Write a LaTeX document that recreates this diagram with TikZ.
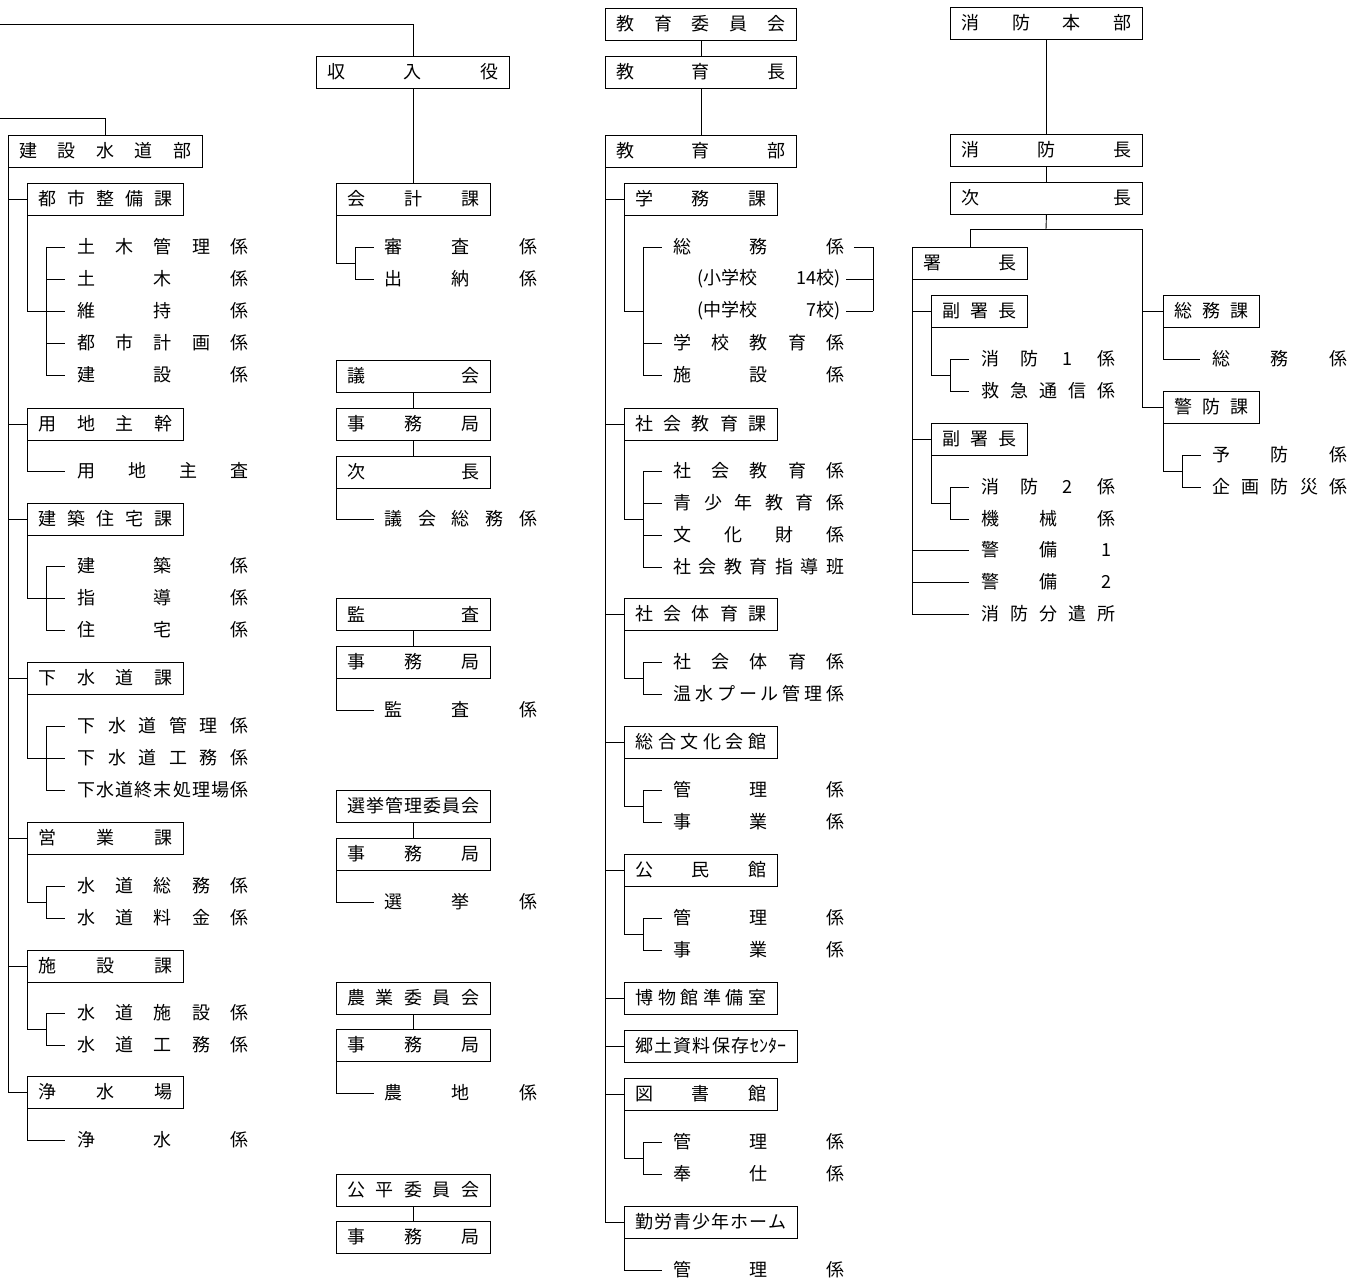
\documentclass[tikz,border=0pt]{standalone}
\usepackage{fontspec}
\setmainfont{Noto Sans CJK JP}
\makeatletter
\def\spr@endmark{}
\def\spr@end{\spr@endmark}
\newcommand\spreadtext[1]{\spr@a#1\spr@end}
\def\spr@a#1{#1\spr@b}
\def\spr@b#1{\ifx\spr@end#1\else\hfill#1\expandafter\spr@b\fi}
\makeatother
\newcommand\dg[1]{\makebox[1em]{#1}}
\newcommand\bx[5]{\node[box,minimum width=#4pt] (#1) at (#2,#3) {\makebox[\dimexpr#4pt-22pt\relax][s]{\spreadtext{#5}}};}
\newcommand\itm[5]{\node[item] (#1) at (#2,#3) {\makebox[#4pt][s]{\spreadtext{#5}}};}
\newcommand\tk[3]{\draw (#2,0 |- #1.west) -- (#3,0 |- #1.west);}
\begin{document}
\begin{tikzpicture}[x=1pt,y=-1pt,line width=0.9pt,
  every node/.style={font=\fontsize{18pt}{20pt}\selectfont},
  box/.style={draw,anchor=west,inner sep=0pt,minimum height=32pt},
  item/.style={anchor=west,inner sep=0pt}]
\fill[white] (0,0) rectangle (1348,1281);
\useasboundingbox (0,0) rectangle (1348,1281);

% ---------------- left column ----------------
\bx{kensetsu}{8}{151}{194}{建設水道部}
\bx{toshi}{27}{199}{156}{都市整備課}
\itm{Lt1}{77}{247}{171}{土木管理係}
\itm{Lt2}{77}{279}{171}{土木係}
\itm{Lt3}{77}{311}{171}{維持係}
\itm{Lt4}{77}{343}{171}{都市計画係}
\itm{Lt5}{77}{375}{171}{建設係}
\bx{yochi}{27}{424}{156}{用地主幹}
\itm{Ly1}{77}{471}{171}{用地主査}
\bx{kenchiku}{27}{519}{156}{建築住宅課}
\itm{Lk1}{77}{566}{171}{建築係}
\itm{Lk2}{77}{598}{171}{指導係}
\itm{Lk3}{77}{630}{171}{住宅係}
\bx{gesui}{27}{678}{156}{下水道課}
\itm{Lg1}{77}{726}{171}{下水道管理係}
\itm{Lg2}{77}{758}{171}{下水道工務係}
\itm{Lg3}{77}{790}{171}{下水道終末処理場係}
\bx{eigyo}{27}{838}{156}{営業課}
\itm{Le1}{77}{886}{171}{水道総務係}
\itm{Le2}{77}{918}{171}{水道料金係}
\bx{shisetsu}{27}{966}{156}{施設課}
\itm{Ls1}{77}{1013}{171}{水道施設係}
\itm{Ls2}{77}{1045}{171}{水道工務係}
\bx{josui}{27}{1092}{156}{浄水場}
\itm{Lj1}{77}{1140}{171}{浄水係}

% ---------------- middle column ----------------
\bx{shunyu}{316}{72}{193}{収入役}
\bx{kaikei}{336}{199}{154}{会計課}
\itm{Mk1}{384}{247}{153}{審査係}
\itm{Mk2}{384}{279}{153}{出納係}
\bx{gikai}{336}{376}{154}{議会}
\bx{gjim}{336}{424}{154}{事務局}
\bx{gjicho}{336}{472}{154}{次長}
\itm{Mg1}{384}{519}{153}{議会総務係}
\bx{kansa}{336}{614}{154}{監査}
\bx{kjim}{336}{662}{154}{事務局}
\itm{Mka1}{384}{710}{153}{監査係}
\bx{senkyo}{336}{806}{154}{選挙管理委員会}
\bx{sjim}{336}{854}{154}{事務局}
\itm{Ms1}{384}{902}{153}{選挙係}
\bx{nogyo}{336}{998}{154}{農業委員会}
\bx{njim}{336}{1045}{154}{事務局}
\itm{Mn1}{384}{1093}{153}{農地係}
\bx{kohei}{336}{1190}{154}{公平委員会}
\bx{hjim}{336}{1237}{154}{事務局}

% ---------------- education column ----------------
\bx{kyoi}{605}{24}{191}{教育委員会}
\bx{kyocho}{605}{72}{191}{教育長}
\bx{kyobu}{605}{151}{191}{教育部}
\bx{gakumu}{624}{199}{153}{学務課}
\itm{Eg1}{673}{247}{171}{総務係}
\node[item] (sho1) at (697,279) {(小学校};
\node[item,anchor=east] (sho2) at (841,279) {14校)};
\node[item] (chu1) at (697,311) {(中学校};
\node[item,anchor=east] (chu2) at (841,311) {\phantom{1}7校)};
\itm{Eg2}{673}{343}{171}{学校教育係}
\itm{Eg3}{673}{375}{171}{施設係}
\bx{shakyo}{624}{424}{153}{社会教育課}
\itm{Esk1}{673}{471}{171}{社会教育係}
\itm{Esk2}{673}{503}{171}{青少年教育係}
\itm{Esk3}{673}{535}{171}{文化財係}
\itm{Esk4}{673}{567}{171}{社会教育指導班}
\bx{shatai}{624}{614}{153}{社会体育課}
\itm{Est1}{673}{662}{171}{社会体育係}
\itm{Est2}{673}{694}{171}{温水プール管理係}
\bx{sogo}{624}{742}{153}{総合文化会館}
\itm{Eso1}{673}{790}{171}{管理係}
\itm{Eso2}{673}{822}{171}{事業係}
\bx{kominkan}{624}{870}{153}{公民館}
\itm{Eko1}{673}{918}{171}{管理係}
\itm{Eko2}{673}{950}{171}{事業係}
\bx{hakubutsu}{624}{998}{153}{博物館準備室}
\bx{kyodo}{624}{1046}{173}{郷土資料保存{ｾﾝﾀｰ}}
\bx{tosho}{624}{1094}{153}{図書館}
\itm{Eto1}{673}{1142}{171}{管理係}
\itm{Eto2}{673}{1174}{171}{奉仕係}
\bx{kinro}{624}{1222}{173}{勤労青少年ホーム}
\itm{Eki1}{673}{1270}{171}{管理係}

% ---------------- fire column ----------------
\bx{shohon}{950}{23}{192}{消防本部}
\bx{shocho}{950}{150}{192}{消防長}
\bx{fjicho}{950}{198}{192}{次長}
\bx{shoch}{912}{263}{115}{署長}
\bx{fuku1}{931}{311}{96}{副署長}
\bx{fuku2}{931}{439}{96}{副署長}
\bx{somuka}{1163}{311}{96}{総務課}
\bx{keiboka}{1163}{407}{96}{警防課}
\itm{Ff1}{981}{359}{134}{消防{\dg1}係}
\itm{Ff2}{981}{391}{134}{救急通信係}
\itm{Ff3}{981}{487}{134}{消防{\dg2}係}
\itm{Ff4}{981}{519}{134}{機械係}
\itm{Ff5}{981}{550}{134}{警備{\dg1}}
\itm{Ff6}{981}{582}{134}{警備{\dg2}}
\itm{Ff7}{981}{614}{134}{消防分遣所}
\itm{Fs1}{1212}{359}{135}{総務係}
\itm{Fk1}{1212}{455}{135}{予防係}
\itm{Fk2}{1212}{487}{135}{企画防災係}

% ---------------- connectors: left ----------------
\coordinate (topL) at (0,24);
\coordinate (secL) at (0,118);
\draw (topL) -| (shunyu.north);
\draw (secL) -| (kensetsu.north);
\draw (kensetsu.south west) |- (josui.west);
\foreach \n in {toshi,yochi,kenchiku,gesui,eigyo,shisetsu} {\draw (8,0 |- \n.west) -- (\n.west);}
\draw (toshi.south west) |- (46,0 |- Lt3.west);
\draw (46,0 |- Lt1.west) -- (46,0 |- Lt5.west);
\foreach \n in {Lt1,Lt2,Lt3,Lt4,Lt5} {\tk{\n}{46}{65}}
\draw (yochi.south west) |- (65,0 |- Ly1.west);
\draw (kenchiku.south west) |- (46,0 |- Lk2.west);
\draw (46,0 |- Lk1.west) -- (46,0 |- Lk3.west);
\foreach \n in {Lk1,Lk2,Lk3} {\tk{\n}{46}{65}}
\draw (gesui.south west) |- (46,0 |- Lg2.west);
\draw (46,0 |- Lg1.west) -- (46,0 |- Lg3.west);
\foreach \n in {Lg1,Lg2,Lg3} {\tk{\n}{46}{65}}
\draw (eigyo.south west) |- (46,902);
\draw (46,0 |- Le1.west) -- (46,0 |- Le2.west);
\foreach \n in {Le1,Le2} {\tk{\n}{46}{65}}
\draw (shisetsu.south west) |- (46,1029);
\draw (46,0 |- Ls1.west) -- (46,0 |- Ls2.west);
\foreach \n in {Ls1,Ls2} {\tk{\n}{46}{65}}
\draw (josui.south west) |- (65,0 |- Lj1.west);

% ---------------- connectors: middle ----------------
\draw (shunyu.south) -- (shunyu.south |- kaikei.north);
\draw (kaikei.south west) |- (355,263);
\draw (355,0 |- Mk1.west) -- (355,0 |- Mk2.west);
\foreach \n in {Mk1,Mk2} {\tk{\n}{355}{374}}
\draw (gikai.south) -- (gjim.north);
\draw (gjim.south) -- (gjicho.north);
\draw (gjicho.south west) |- (374,0 |- Mg1.west);
\draw (kansa.south) -- (kjim.north);
\draw (kjim.south west) |- (374,0 |- Mka1.west);
\draw (senkyo.south) -- (sjim.north);
\draw (sjim.south west) |- (374,0 |- Ms1.west);
\draw (nogyo.south) -- (njim.north);
\draw (njim.south west) |- (374,0 |- Mn1.west);
\draw (kohei.south) -- (hjim.north);

% ---------------- connectors: education ----------------
\draw (kyoi.south) -- (kyocho.north);
\draw (kyocho.south) -- (kyobu.north);
\draw (kyobu.south west) |- (kinro.west);
\foreach \n in {gakumu,shakyo,shatai,sogo,kominkan,hakubutsu,kyodo,tosho} {\draw (605,0 |- \n.west) -- (\n.west);}
\draw (gakumu.south west) |- (643,311);
\draw (643,0 |- Eg1.west) -- (643,0 |- Eg3.west);
\foreach \n in {Eg1,Eg2,Eg3} {\tk{\n}{643}{662}}
\draw ([xshift=9pt]Eg1.east) -| (873,311);
\draw ([xshift=5pt]sho2.east) -- (873,279);
\draw ([xshift=5pt]chu2.east) -- (873,311);
\draw (shakyo.south west) |- (643,519);
\draw (643,0 |- Esk1.west) -- (643,0 |- Esk4.west);
\foreach \n in {Esk1,Esk2,Esk3,Esk4} {\tk{\n}{643}{662}}
\draw (shatai.south west) |- (643,678);
\draw (643,0 |- Est1.west) -- (643,0 |- Est2.west);
\foreach \n in {Est1,Est2} {\tk{\n}{643}{662}}
\draw (sogo.south west) |- (643,806);
\draw (643,0 |- Eso1.west) -- (643,0 |- Eso2.west);
\foreach \n in {Eso1,Eso2} {\tk{\n}{643}{662}}
\draw (kominkan.south west) |- (643,934);
\draw (643,0 |- Eko1.west) -- (643,0 |- Eko2.west);
\foreach \n in {Eko1,Eko2} {\tk{\n}{643}{662}}
\draw (tosho.south west) |- (643,1158);
\draw (643,0 |- Eto1.west) -- (643,0 |- Eto2.west);
\foreach \n in {Eto1,Eto2} {\tk{\n}{643}{662}}
\draw (kinro.south west) |- (662,0 |- Eki1.west);

% ---------------- connectors: fire ----------------
\draw (shohon.south) -- (shocho.north);
\draw (shocho.south) -- (fjicho.north);
\coordinate (fj) at (1046,229);
\draw (fjicho.south) -- (fj);
\draw (shoch.north) |- (1142,229) |- (keiboka.west);
\draw (1142,0 |- somuka.west) -- (somuka.west);
\draw (somuka.south west) |- (1200,0 |- Fs1.west);
\draw (keiboka.south west) |- (1182,471);
\draw (1182,0 |- Fk1.west) -- (1182,0 |- Fk2.west);
\foreach \n in {Fk1,Fk2} {\tk{\n}{1182}{1201}}
\draw (shoch.south west) |- (969,0 |- Ff7.west);
\foreach \n in {fuku1,fuku2} {\draw (912,0 |- \n.west) -- (\n.west);}
\foreach \n in {Ff5,Ff6} {\tk{\n}{912}{969}}
\draw (fuku1.south west) |- (950,375);
\draw (950,0 |- Ff1.west) -- (950,0 |- Ff2.west);
\foreach \n in {Ff1,Ff2} {\tk{\n}{950}{969}}
\draw (fuku2.south west) |- (950,503);
\draw (950,0 |- Ff3.west) -- (950,0 |- Ff4.west);
\foreach \n in {Ff3,Ff4} {\tk{\n}{950}{969}}
\end{tikzpicture}
\end{document}
